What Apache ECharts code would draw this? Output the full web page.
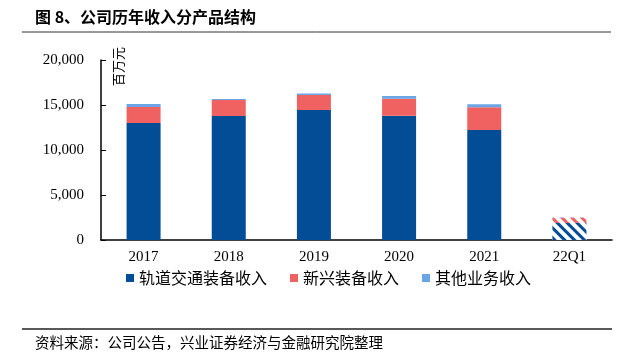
<!DOCTYPE html>
<html><head><meta charset="utf-8">
<script src="https://cdn.jsdelivr.net/npm/echarts@6/dist/echarts.min.js"></script>
<style>html,body{margin:0;padding:0;background:#fff}#c{width:636px;height:360px}</style>
</head><body><div id="c"></div>
<script>
const categories = ['2017','2018','2019','2020','2021','22Q1'];
const railValues = [13000, 13780, 14440, 13810, 12220, 1900];
const newEquipValues = [1780, 1770, 1670, 1890, 2520, 600];
const otherValues = [320, 120, 170, 300, 330, 30];
const yTicks = [0, 5000, 10000, 15000, 20000];
const seriesNames = ['轨道交通装备收入','新兴装备收入','其他业务收入'];
const colors = ['#034C96','#F06262','#6AA5E6'];

const serif = '"Liberation Serif","Times New Roman",serif';
const cjk = '"Noto Sans CJK SC",sans-serif';
const chart = echarts.init(document.getElementById('c'));

function build(values, idx) {
  return values.map((v, i) => {
    if (categories[i] === '22Q1') {
      return {
        value: v,
        itemStyle: {
          color: '#ffffff',
          decal: {
            symbol: 'rect',
            color: colors[idx],
            backgroundColor: '#ffffff',
            dashArrayX: [1, 0],
            dashArrayY: [3, 4],
            rotation: Math.PI / 4
          }
        }
      };
    }
    return v;
  });
}
const seriesData = [railValues, newEquipValues, otherValues];

chart.setOption({
  animation: false,
  backgroundColor: '#fff',
  color: colors,
  grid: { left: 101, right: 24, top: 60, bottom: 120 },
  legend: {
    data: seriesNames,
    left: 121, top: 265,
    itemWidth: 8, itemHeight: 8, itemGap: 23,
    icon: 'rect',
    textStyle: { fontFamily: cjk, fontSize: 16, color: '#000' }
  },
  xAxis: {
    type: 'category',
    data: categories,
    axisLine: { lineStyle: { color: '#000', width: 1.5 } },
    axisTick: { show: false },
    axisLabel: { fontFamily: serif, fontSize: 15, color: '#000', margin: 10 }
  },
  yAxis: {
    type: 'value',
    min: 0, max: 20000, interval: 5000,
    splitLine: { show: false },
    axisLine: { show: true, lineStyle: { color: '#000', width: 1.5 } },
    axisTick: { show: true, inside: true, length: 5, lineStyle: { color: '#000' } },
    axisLabel: {
      fontFamily: serif, fontSize: 15, color: '#000', margin: 17,
      formatter: v => yTicks.includes(v) ? v.toLocaleString('en-US') : ''
    }
  },
  series: seriesNames.map((n, k) => ({
    name: n, type: 'bar', stack: 'total', barWidth: 34,
    data: build(seriesData[k], k)
  })),
  graphic: [
    { type: 'text', left: 35, top: 9, style: { text: '图 8、公司历年收入分产品结构', font: 'bold 16px ' + cjk, fill: '#000' } },
    { type: 'line', shape: { x1: 22, y1: 32, x2: 611, y2: 32 }, style: { stroke: '#333', lineWidth: 1 } },
    { type: 'line', shape: { x1: 22, y1: 329, x2: 612, y2: 329 }, style: { stroke: '#222', lineWidth: 1.5 } },
    { type: 'text', left: 35, top: 335, style: { text: '资料来源：公司公告，兴业证券经济与金融研究院整理', font: '14.5px ' + cjk, fill: '#000' } },
    { type: 'text', x: 112, y: 86, rotation: Math.PI / 2, style: { text: '百万元', font: '13px ' + cjk, fill: '#000' } }
  ]
});
</script></body></html>
